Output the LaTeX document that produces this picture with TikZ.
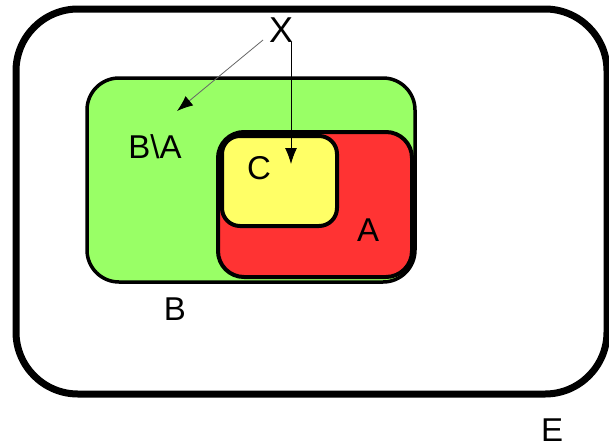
\documentclass[tikz,border=0pt]{standalone}
\usepackage{fontspec}
\setmainfont{Liberation Sans}
\usetikzlibrary{arrows.meta}
\definecolor{setgreen}{HTML}{99FF66}
\definecolor{setred}{HTML}{FF3333}
\definecolor{setyellow}{HTML}{FFFF66}
\tikzset{
  lbl/.style={inner sep=0pt, font=\fontsize{33}{33}\selectfont},
  pointer/.style={-{Latex[length=16pt,width=12pt,color=black]}, line width=0.9pt},
}
\begin{document}
\begin{tikzpicture}[x=1pt,y=-1pt]
\useasboundingbox (0,0) rectangle (609,447);
% universe E
\draw[line width=7pt, rounded corners=62pt] (16,9) rectangle (607,394);
% B
\draw[fill=setgreen, line width=3.5pt, rounded corners=32pt] (87,78) rectangle (415,282);
% A
\draw[fill=setred, line width=4pt, rounded corners=26pt] (218,132) rectangle (412,277);
% C
\draw[fill=setyellow, line width=4pt, rounded corners=18pt] (222,136) rectangle (337,226);
% labels
\node[lbl, font=\fontsize{36}{36}\selectfont] (X) at (281,30) {X};
\node[lbl] (BA) at (155,147) {B\textbackslash A};
\node[lbl] (C) at (259,168) {C};
\node[lbl] (A) at (368,230) {A};
\node[lbl] (B) at (175,309) {B};
\node[lbl] (E) at (552,430) {E};
% arrows
\coordinate (s1) at (263,40);
\coordinate (t1) at (177,111);
\coordinate (s2) at (291,42);
\coordinate (t2) at (291,164);
\draw[pointer, draw=black!60, line width=0.8pt] (s1) -- (t1);
\draw[pointer] (s2) -- (t2);
\end{tikzpicture}
\end{document}
